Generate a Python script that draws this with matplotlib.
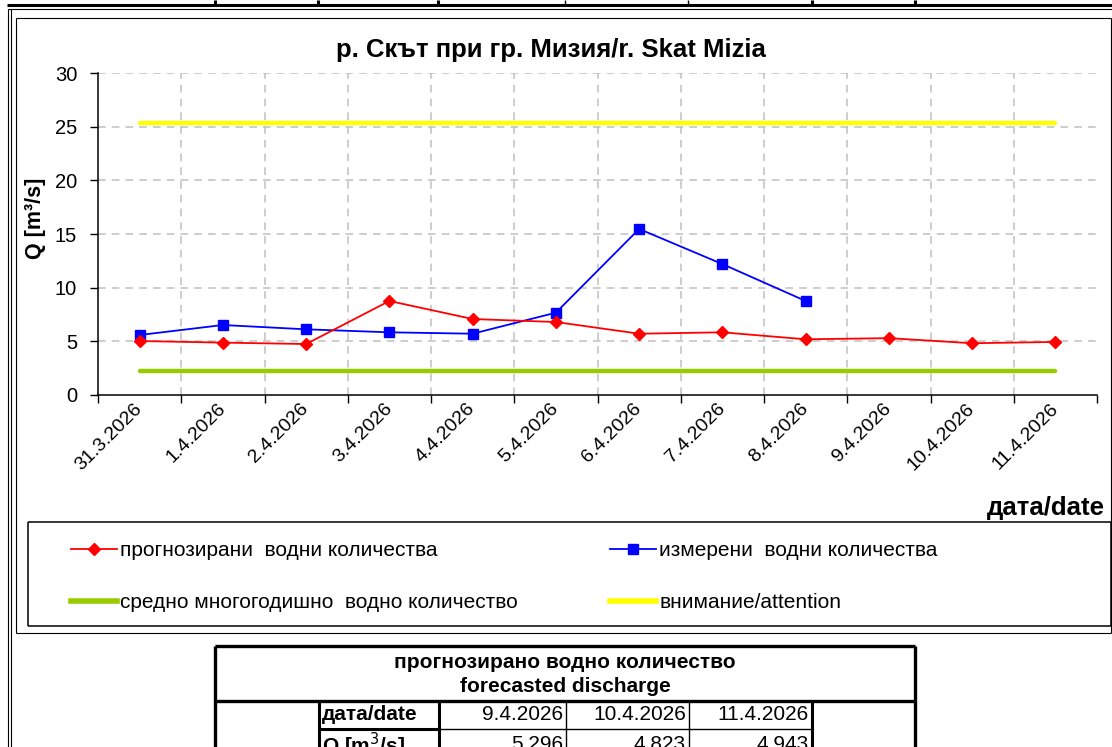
import matplotlib.pyplot as plt
from matplotlib.lines import Line2D

plt.rcParams['font.family'] = ['Liberation Sans', 'DejaVu Sans']

# data
dates = ['31.3.2026', '1.4.2026', '2.4.2026', '3.4.2026', '4.4.2026', '5.4.2026',
         '6.4.2026', '7.4.2026', '8.4.2026', '9.4.2026', '10.4.2026', '11.4.2026']
forecast = [5.03, 4.88, 4.75, 8.76, 7.08, 6.8, 5.71, 5.84, 5.19, 5.296, 4.823, 4.943]
measured = [5.59, 6.52, 6.12, 5.84, 5.71, 7.67, 15.47, 12.2, 8.76]
mean_q = 2.24
attention_q = 25.35
y_ticks = [0, 5, 10, 15, 20, 25, 30]

title = 'р. Скът при гр. Мизия/r. Skat Mizia'
lbl_forecast = 'прогнозирани  водни количества'
lbl_measured = 'измерени  водни количества'
lbl_mean = 'средно многогодишно  водно количество'
lbl_attention = 'внимание/attention'

# table below the chart shows the last three forecast days
table_dates = dates[-3:]
table_q = forecast[-3:]

W, H = 1112, 747
fig = plt.figure(figsize=(W / 100, H / 100), dpi=100)
fig.patch.set_facecolor('white')

# overlay in pixel coordinates for frames and the table
ov = fig.add_axes([0, 0, 1, 1])
ov.set_xlim(0, W)
ov.set_ylim(H, 0)
ov.axis('off')


def hline(y, x0, x1, lw=1.0, color='black'):
    ov.plot([x0, x1], [y, y], color=color, lw=lw, solid_capstyle='butt')


def vline(x, y0, y1, lw=1.0, color='black'):
    ov.plot([x, x], [y0, y1], color=color, lw=lw, solid_capstyle='butt')


# remains of the table above
for xc, lw in [(215, 2.2), (318, 2.2), (438, 2.2), (565, 1.0), (688, 1.0), (812, 2.2), (915, 2.2)]:
    vline(xc, 0, 5, lw)
ov.text(323, 3, 'Q [m$^3$/s]', fontsize=15, fontweight='bold', va='bottom', ha='left')
hline(5, 7, W, 2.2)
hline(8.5, 8, W, 0.8)

# page / chart frames
vline(8, 8.5, H, 0.8)
vline(10.5, 8.5, H, 0.8)
hline(18, 16, 1111, 0.8)
hline(633, 16, 1111, 0.8)
vline(16, 18, 633, 0.8)
vline(1111, 18, 633, 0.8)

# legend frame
hline(522, 28, 1111, 1.1)
hline(626, 28, 1111, 1.1)
vline(28, 522, 626, 1.1)
vline(1111, 522, 626, 1.1)

# forecast table
hline(646, 215, 915, 2.4)
vline(215, 646, H, 2.4)
vline(915, 646, H, 2.4)
hline(701, 215, 915, 2.4)
vline(319, 701, H, 2.2)
vline(439, 701, H, 2.2)
vline(566, 701, H, 1.0)
vline(689, 701, H, 1.0)
vline(812, 701, H, 2.2)
hline(729, 319, 439, 2.2)
hline(729, 439, 812, 1.0)
ov.text(565, 662, 'прогнозирано водно количество', ha='center', va='center',
        fontsize=15, fontweight='bold')
ov.text(565, 686, 'forecasted discharge', ha='center', va='center',
        fontsize=15, fontweight='bold')
ov.text(322, 715, 'дата/date', ha='left', va='center', fontsize=15, fontweight='bold')
ov.text(322, 745, 'Q [m$^3$/s]', ha='left', va='center', fontsize=15, fontweight='bold')
cell_right = [563, 686, 809]
for xr, d, q in zip(cell_right, table_dates, table_q):
    ov.text(xr, 715, d, ha='right', va='center', fontsize=15)
    ov.text(xr, 745, f'{q:.3f}', ha='right', va='center', fontsize=15)

# main chart
ax = fig.add_axes([98 / W, 1 - 395 / H, 999 / W, 322 / H])
ax.set_facecolor('white')
x = list(range(len(dates)))

ax.plot(x, [mean_q] * len(x), color='#99CC00', lw=3.2, solid_capstyle='round', zorder=2)
ax.plot(x, [attention_q] * len(x), color='#FFFF00', lw=3.2, solid_capstyle='round', zorder=2)
ax.plot(x[:len(measured)], measured, color='#0000FF', lw=1.3, marker='s', ms=7.5, zorder=3)
ax.plot(x, forecast, color='#FF0000', lw=1.3, marker='D', ms=6.5, zorder=4)

ax.set_xlim(-0.5, len(dates) - 0.5)
ax.set_ylim(0, 30)
ax.set_yticks(y_ticks)
ax.set_yticklabels([str(v) for v in y_ticks], fontsize=14.5)
ax.set_xticks([i - 0.5 for i in range(len(dates) + 1)])
ax.set_xticklabels([])
ax.set_xticks(x, minor=True)
ax.set_xticklabels(dates, minor=True, rotation=45, ha='right', va='center',
                   rotation_mode='anchor', fontsize=14)
ax.tick_params(axis='x', which='minor', length=0, pad=8)
ax.tick_params(axis='both', which='major', length=6, width=1, direction='out', colors='black')
ax.tick_params(axis='y', which='major', pad=9)

ax.grid(True, which='major', color='#C0C0C0', linestyle=(0, (5, 4)), lw=1.1)
ax.get_xgridlines()[-1].set_visible(False)
ax.get_xgridlines()[0].set_visible(False)
ax.get_ygridlines()[0].set_visible(False)
ax.set_axisbelow(True)
for s in ['top', 'right']:
    ax.spines[s].set_visible(False)
for s in ['left', 'bottom']:
    ax.spines[s].set_color('black')
    ax.spines[s].set_linewidth(1.1)

fig.text(551 / W, 1 - 50 / H, title, ha='center', va='center', fontsize=18.5, fontweight='bold')
fig.text(35 / W, 1 - 218 / H, 'Q [m³/s]', rotation=90, ha='center', va='center',
         fontsize=15.5, fontweight='bold')
fig.text(1105 / W, 1 - 508 / H, 'дата/date', ha='right', va='center', fontsize=18.5,
         fontweight='bold')

handles = [
    Line2D([], [], color='#FF0000', lw=1.3, marker='D', ms=6.5),
    Line2D([], [], color='#99CC00', lw=4),
    Line2D([], [], color='#0000FF', lw=1.3, marker='s', ms=7.5),
    Line2D([], [], color='#FFFF00', lw=4),
]
labels = [lbl_forecast, lbl_mean, lbl_measured, lbl_attention]
fig.legend(handles, labels, ncol=2, loc='upper left', bbox_to_anchor=(71 / W, 1 - 541 / H),
           frameon=False, fontsize=15, handlelength=2.2, handletextpad=0.15,
           labelspacing=1.6, columnspacing=4.45, borderpad=0, borderaxespad=0)

fig.savefig('out.png', dpi=100, facecolor='white')
